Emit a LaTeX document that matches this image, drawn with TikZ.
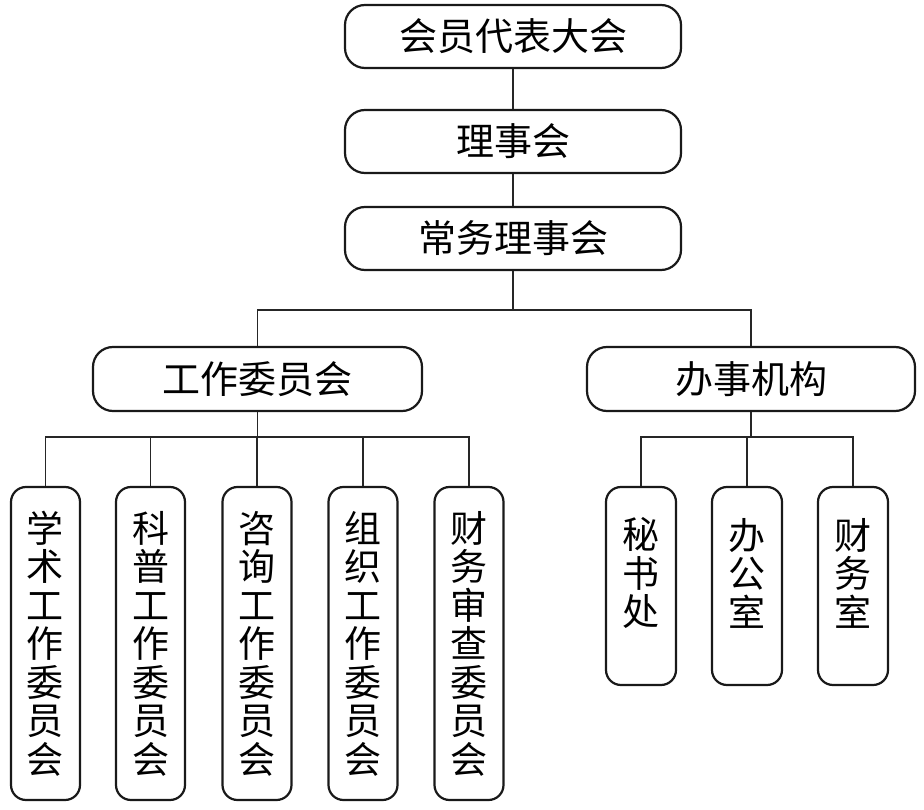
\documentclass[tikz,border=0pt]{standalone}
\usepackage{fontspec}
\setmainfont{Noto Sans CJK SC}
\begin{document}
\begin{tikzpicture}[x=1pt,y=-1pt,
  hbox/.style={draw=black!90,line width=2.2pt,rounded corners=20pt,minimum height=63pt,inner sep=0pt,
    font=\fontsize{38}{38.5}\selectfont},
  vbox/.style={draw=black!90,line width=2.2pt,rounded corners=15pt,minimum width=69pt,inner sep=0pt},
  vtext/.style={align=center,inner sep=0pt,font=\fontsize{37}{38.5}\selectfont},
  link/.style={draw=black!85,line width=1.4pt}]
\useasboundingbox (0,0) rectangle (924,810);
\fill[white] (0,0) rectangle (924,810);
% top chain
\node[hbox,minimum width=336pt] (hy) at (513,36.5) {会员代表大会};
\node[hbox,minimum width=336pt] (ls) at (513,141.5) {理事会};
\node[hbox,minimum width=336pt] (cw) at (513,238.5) {常务理事会};
\node[hbox,minimum width=329pt,minimum height=64pt] (gw) at (257.5,379) {工作委员会};
\node[hbox,minimum width=328pt,minimum height=64pt] (bs) at (751,379) {办事机构};
% long boxes
\foreach \n/\x/\t in {l1/45.5/学\\术\\工\\作\\委\\员\\会, l2/150.5/科\\普\\工\\作\\委\\员\\会, l3/257/咨\\询\\工\\作\\委\\员\\会, l4/363/组\\织\\工\\作\\委\\员\\会, l5/469/财\\务\\审\\查\\委\\员\\会}{
  \node[vbox,minimum height=313pt] (\n) at (\x,643.5) {};
  \node[vtext] (\n t) at (\x,643.5) {\t};
}
\foreach \n/\x/\t in {s1/641/秘\\书\\处, s2/747/办\\公\\室, s3/853/财\\务\\室}{
  \node[vbox,minimum height=198pt,minimum width=70pt] (\n) at (\x,586) {};
  \node[vtext] (\n t) at (\x,573) {\t};
}
% connectors
\draw[link] (hy.south) -- (ls.north);
\draw[link] (ls.south) -- (cw.north);
\coordinate (j1) at (513,310);
\draw[link] (cw.south) -- (j1);
\draw[link] (gw.north) |- (j1) -| (bs.north);
\coordinate (j2) at (257.5,437);
\draw[link] (gw.south) -- (j2);
\draw[link] (l1.north) |- (j2);
\draw[link] (l5.north) |- (j2);
\draw[link] (l2.north) -- (l2.north |- j2);
\draw[link] (l3.north) -- (l3.north |- j2);
\draw[link] (l4.north) -- (l4.north |- j2);
\coordinate (j3) at (751,437);
\draw[link] (bs.south) -- (j3);
\draw[link] (s1.north) |- (j3);
\draw[link] (s3.north) |- (j3);
\draw[link] (s2.north) -- (s2.north |- j3);
\end{tikzpicture}
\end{document}
